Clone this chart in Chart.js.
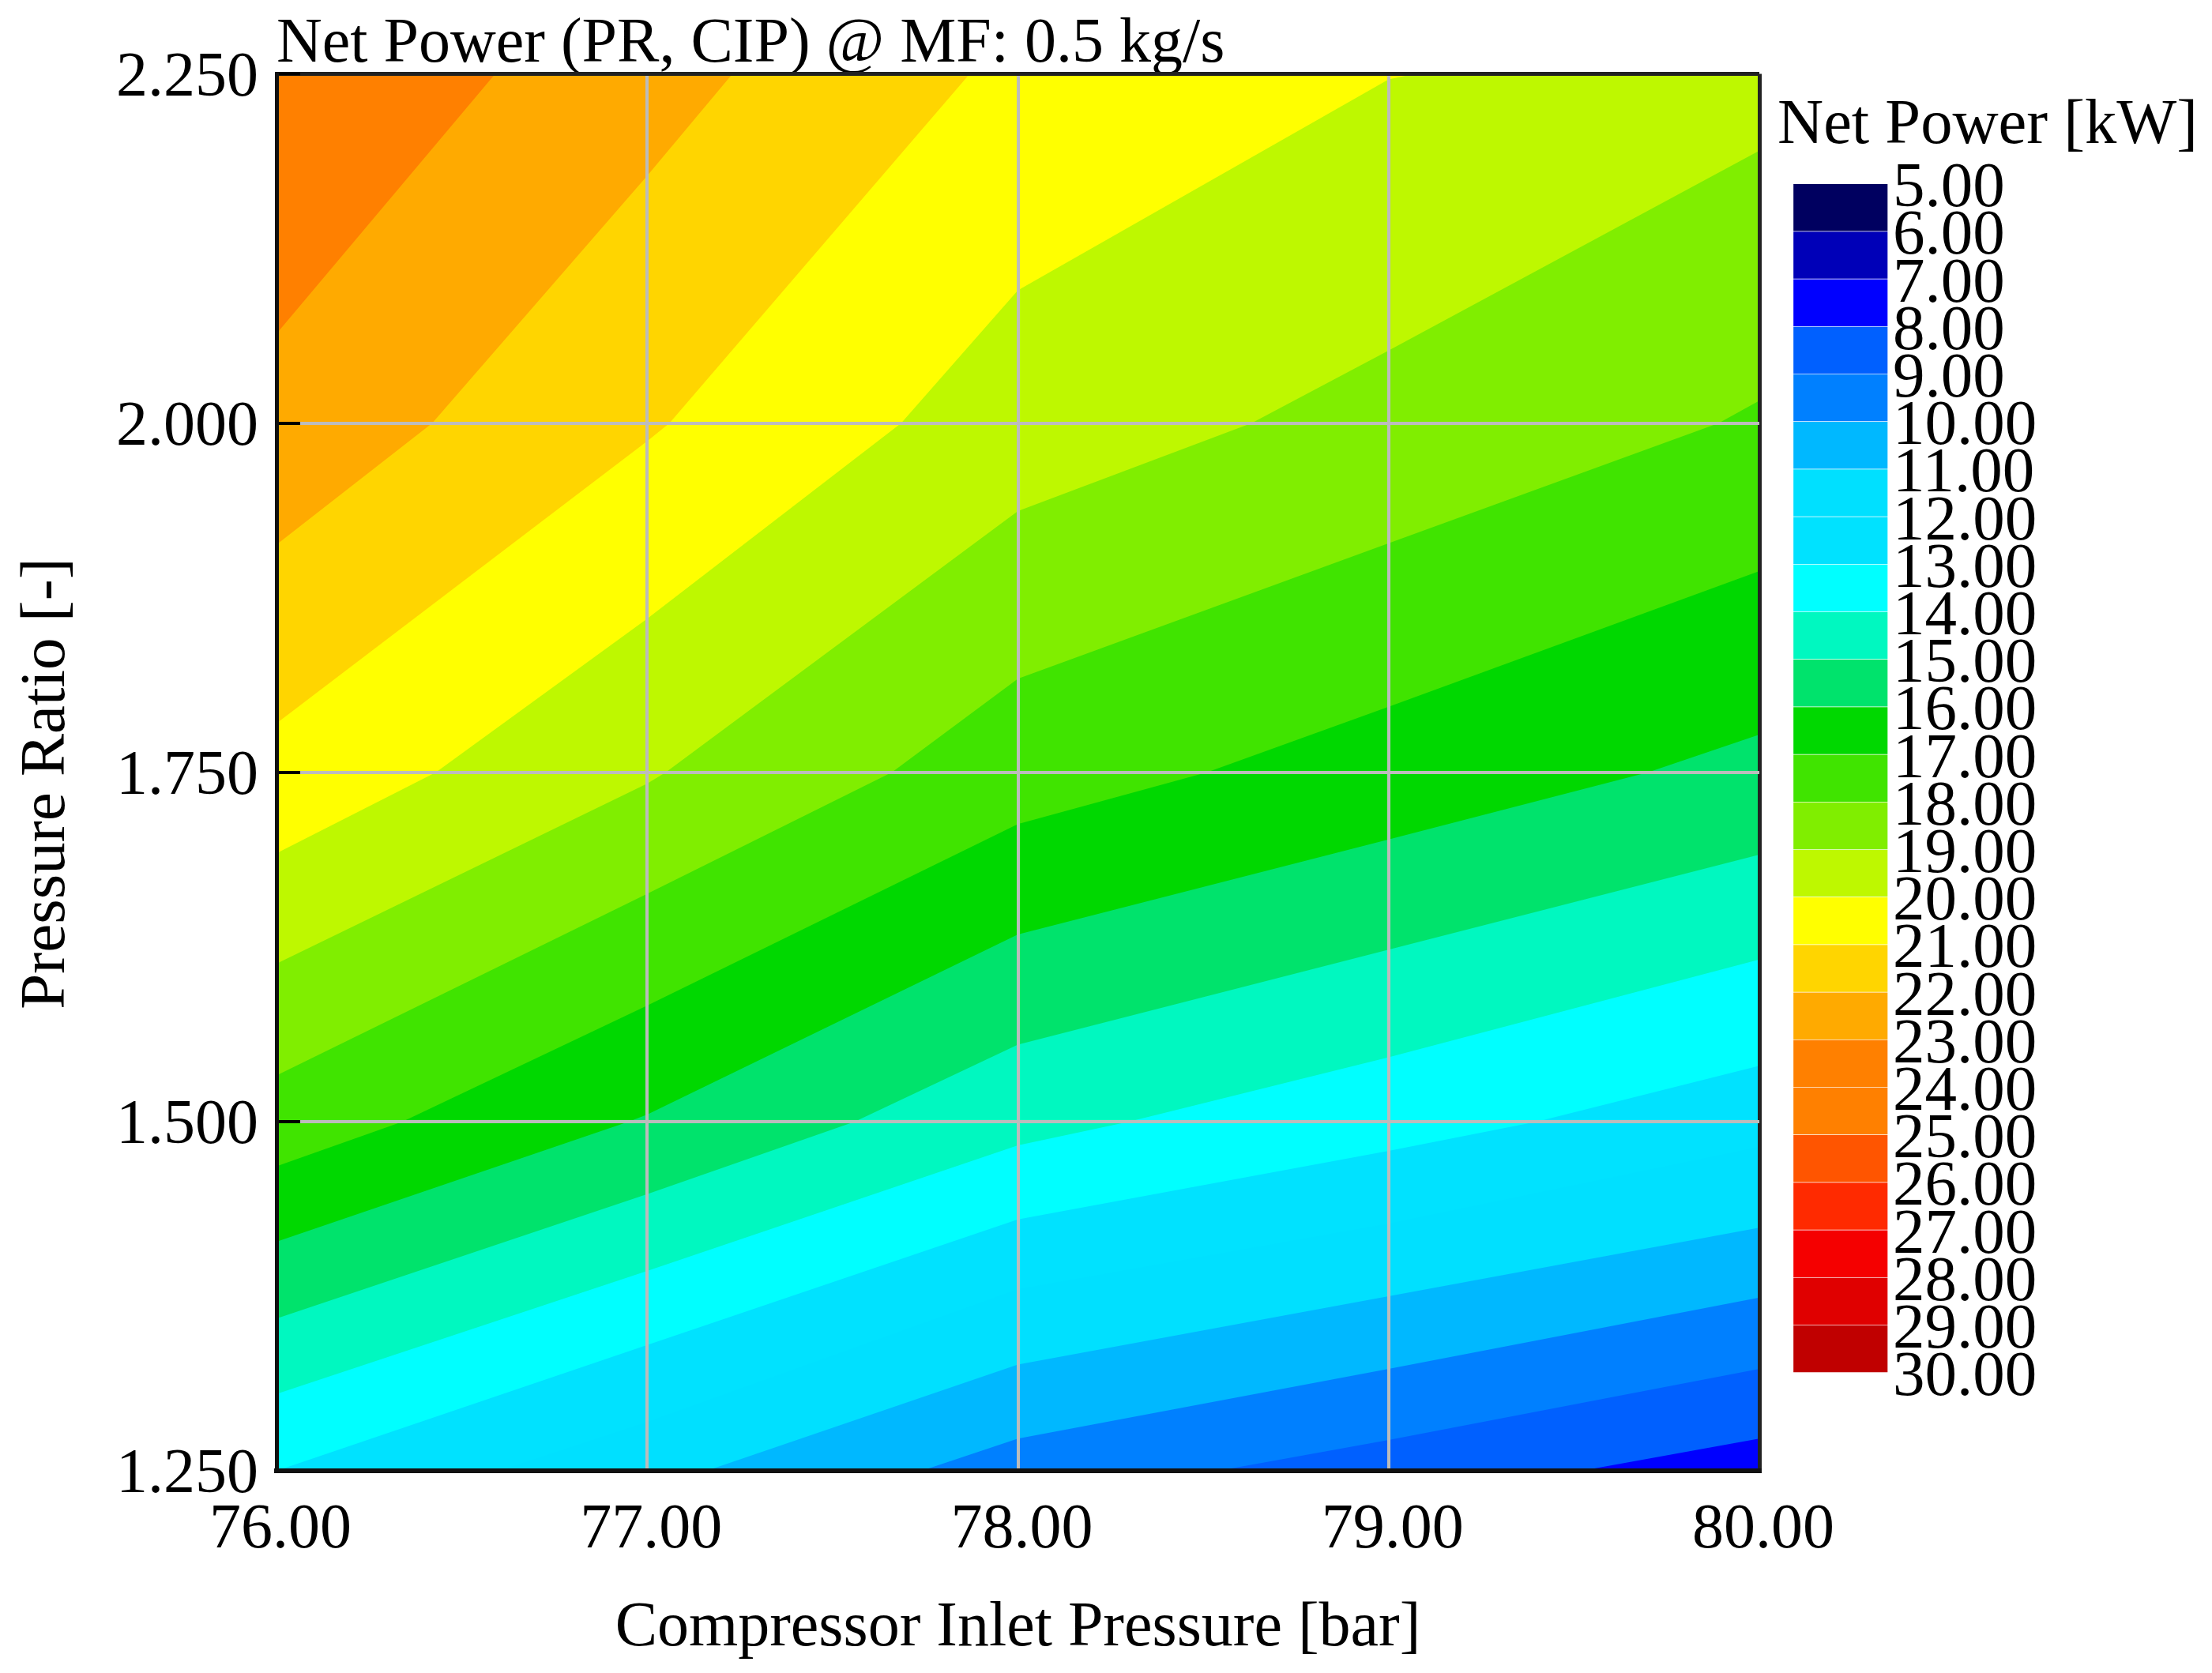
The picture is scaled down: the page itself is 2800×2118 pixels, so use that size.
<!DOCTYPE html>
<html>
<head>
<meta charset="utf-8">
<title>Net Power contour</title>
<script src="https://cdn.jsdelivr.net/npm/chart.js@4"></script>
<style>
  body { margin: 0; background: #fff; }
  canvas { position: absolute; }
</style>
</head>
<body>
<canvas id="contourChart" width="2800" height="2118" style="left:0;top:0"></canvas>
<canvas id="barChart" width="531" height="1900" style="left:2269px;top:0"></canvas>
<script>
const chartTitle = 'Net Power (PR, CIP) @ MF: 0.5 kg/s';
const xTitle = 'Compressor Inlet Pressure [bar]';
const yTitle = 'Pressure Ratio [-]';
const barTitle = 'Net Power [kW]';

const xTicks = [76, 77, 78, 79, 80];
const yTicks = [1.25, 1.5, 1.75, 2.0, 2.25];

// colour bar: level edges and one colour per band
const barLevels = [5, 6, 7, 8, 9, 10, 11, 12, 13, 14, 15, 16, 17, 18, 19, 20, 21, 22, 23, 24, 25, 26, 27, 28, 29, 30];
const bandColors = ['#000060', '#0000b8', '#0000ff', '#0060ff', '#0080ff', '#00b8ff', '#00e0ff', '#00e2ff', '#00ffff',
    '#00f8c0', '#00e36c', '#00d800', '#40e400', '#80ee00', '#bef800', '#ffff00', '#ffd500', '#ffaa00', '#ff8000',
    '#ff8000', '#ff5500', '#ff2a00', '#f50000', '#e00000', '#c00000'];

// contour lines, [inlet pressure, pressure ratio]
const level7 = [[76, 1.25], [80, 1.25]];
const level8 = [[76, 1.25], [79.52, 1.25], [80, 1.273]];
const level9 = [[76, 1.25], [78.54, 1.25], [79, 1.272], [80, 1.323]];
const level10 = [[76, 1.25], [77.74, 1.25], [78, 1.273], [79, 1.323], [80, 1.374]];
const level11 = [[76, 1.25], [77.16, 1.25], [78, 1.326], [79, 1.375], [80, 1.424]];
const level12 = [[76, 1.25], [76.6, 1.25], [77, 1.285], [78, 1.38], [79, 1.427], [80, 1.482]];
const level13 = [[76, 1.25], [77, 1.34], [78, 1.43], [79, 1.479], [79.4, 1.5], [80, 1.54]];
const level14 = [[76, 1.305], [77, 1.393], [78, 1.483], [78.3, 1.5], [79, 1.546], [80, 1.616]];
const level15 = [[76, 1.359], [77, 1.448], [77.56, 1.5], [78, 1.555], [79, 1.623], [80, 1.691]];
const level16 = [[76, 1.414], [76.95, 1.5], [77, 1.505], [78, 1.634], [79, 1.702], [79.7, 1.75], [80, 1.777]];
const level17 = [[76, 1.468], [76.34, 1.5], [77, 1.583], [78, 1.713], [78.51, 1.75], [79, 1.797], [80, 1.894]];
const level18 = [[76, 1.533], [77, 1.663], [77.66, 1.75], [78, 1.817], [79, 1.914], [79.89, 2.0], [80, 2.016]];
const level19 = [[76, 1.613], [77, 1.742], [77.05, 1.75], [78, 1.937], [78.63, 2.0], [79, 2.052], [80, 2.195]];
const level20 = [[76, 1.692], [76.43, 1.75], [77, 1.86], [77.685, 2.0], [78, 2.095], [79, 2.246], [79.07, 2.25], [80, 2.25]];
const level21 = [[76, 1.785], [77, 1.987], [77.06, 2.0], [77.87, 2.25], [80, 2.25]];
const level22 = [[76, 1.913], [76.42, 2.0], [77, 2.177], [77.23, 2.25], [80, 2.25]];
const level23 = [[76, 2.064], [76.59, 2.25], [80, 2.25]];

// top contour first, chart.js paints the first dataset last
const contours = [
    { level: 23, points: level23 }, { level: 22, points: level22 }, { level: 21, points: level21 },
    { level: 20, points: level20 }, { level: 19, points: level19 }, { level: 18, points: level18 },
    { level: 17, points: level17 }, { level: 16, points: level16 }, { level: 15, points: level15 },
    { level: 14, points: level14 }, { level: 13, points: level13 }, { level: 12, points: level12 },
    { level: 11, points: level11 }, { level: 10, points: level10 }, { level: 9, points: level9 },
    { level: 8, points: level8 }, { level: 7, points: level7 }
];

Chart.defaults.font.family = '"Liberation Serif"';
Chart.defaults.color = '#000';
Chart.defaults.animation = false;
Chart.defaults.responsive = false;
Chart.defaults.devicePixelRatio = 1;

const edgeOr = (isEdge, edge, inner) => isEdge ? edge : inner;

// the y title sits off centre in the original and the bar title starts left of the bar
const looseTitles = {
    id: 'looseTitles',
    afterDraw(chart) {
        const ctx = chart.ctx;
        ctx.save();
        ctx.fillStyle = '#000';
        ctx.textBaseline = 'middle';
        ctx.font = '80.5px "Liberation Serif"';
        ctx.textAlign = 'left';
        ctx.fillText(barTitle, 2250, 160);
        ctx.font = '81px "Liberation Serif"';
        ctx.translate(60, 992);
        ctx.rotate(-Math.PI / 2);
        ctx.textAlign = 'center';
        ctx.fillText(yTitle, 0, 0);
        ctx.restore();
    }
};

new Chart(document.getElementById('contourChart'), {
    type: 'scatter',
    plugins: [looseTitles],
    data: {
        datasets: contours.map(c => ({
            label: String(c.level),
            data: c.points.map(p => ({ x: p[0], y: p[1] })),
            showLine: true,
            pointRadius: 0,
            borderWidth: 0,
            fill: 'end',
            backgroundColor: bandColors[barLevels.indexOf(c.level)]
        }))
    },
    options: {
        layout: { padding: { top: 0, left: 0, right: 573, bottom: 0 } },
        plugins: {
            legend: { display: false },
            tooltip: { enabled: false },
            title: {
                display: true,
                text: chartTitle,
                align: 'start',
                fullSize: false,
                color: '#000',
                font: { size: 80, weight: 'normal', lineHeight: 0.85 },
                padding: { top: 23, bottom: 2.5 }
            }
        },
        scales: {
            x: {
                type: 'linear',
                min: 76,
                max: 80,
                afterBuildTicks: s => { s.ticks = xTicks.map(v => ({ value: v })); },
                afterFit: s => { s.height = 256; },
                ticks: { font: { size: 80 }, padding: 28, maxRotation: 0, autoSkip: false, labelOffset: 5,
                    callback: v => v.toFixed(2) },
                grid: {
                    z: 1,
                    drawTicks: false,
                    lineWidth: c => edgeOr(c.tick && (c.tick.value === 76 || c.tick.value === 80), 5, 4),
                    color: c => edgeOr(c.tick && (c.tick.value === 76 || c.tick.value === 80), '#222', '#bcbcbc')
                },
                border: { display: true, color: '#111', width: 6, z: 2 },
                title: { display: true, text: xTitle, font: { size: 80 }, padding: { top: 30, bottom: 8 } }
            },
            y: {
                type: 'linear',
                min: 1.25,
                max: 2.25,
                afterBuildTicks: s => { s.ticks = yTicks.map(v => ({ value: v })); },
                afterFit: s => { s.width = 350; s.paddingTop = 0; s.paddingBottom = 0; },
                ticks: { font: { size: 80 }, padding: 53, autoSkip: false, labelOffset: 6,
                    callback: v => v.toFixed(3) },
                grid: {
                    z: 1,
                    tickLength: -30,
                    tickColor: '#000',
                    tickWidth: 4,
                    lineWidth: c => edgeOr(c.tick && (c.tick.value === 1.25 || c.tick.value === 2.25), 5, 4),
                    color: c => edgeOr(c.tick && (c.tick.value === 1.25 || c.tick.value === 2.25), '#222', '#bcbcbc')
                },
                border: { display: true, color: '#111', width: 5, z: 2 }
            }
        }
    }
});

new Chart(document.getElementById('barChart'), {
    type: 'bar',
    data: {
        labels: ['bar'],
        datasets: bandColors.map((color, i) => ({
            label: barLevels[i].toFixed(2),
            data: [[barLevels[i], barLevels[i + 1]]],
            backgroundColor: color,
            borderColor: 'rgba(255,255,255,0.1)',
            borderWidth: 1,
            barPercentage: 1,
            categoryPercentage: 1,
            grouped: false
        }))
    },
    options: {
        layout: { padding: { top: 233, left: 0.5, right: 0, bottom: 162 } },
        plugins: {
            legend: { display: false },
            tooltip: { enabled: false }
        },
        scales: {
            x: { display: false },
            y: {
                position: 'right',
                reverse: true,
                min: 5,
                max: 30,
                afterBuildTicks: s => { s.ticks = barLevels.map(v => ({ value: v })); },
                afterFit: s => { s.width = 410; },
                ticks: { font: { size: 81 }, padding: 6, autoSkip: false, labelOffset: 7,
                    callback: v => v.toFixed(2) },
                grid: { display: false, drawTicks: false },
                border: { display: false }
            }
        }
    }
});
</script>
</body>
</html>
